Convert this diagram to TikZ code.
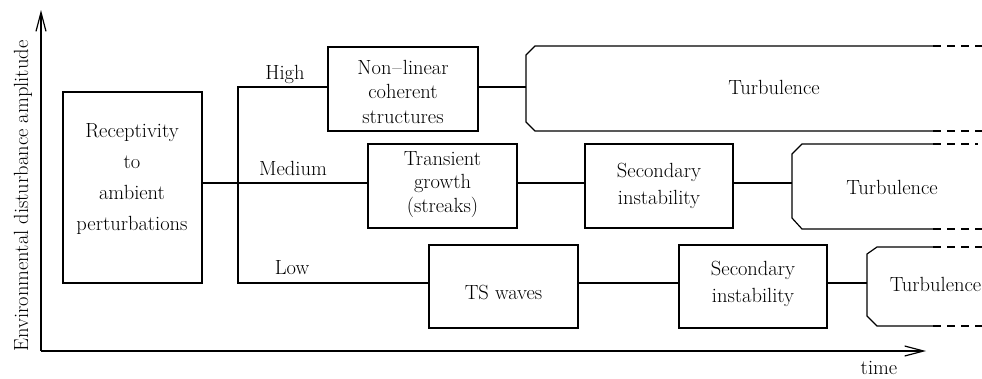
\documentclass[tikz,border=0pt]{standalone}
\usetikzlibrary{arrows.meta}
\begin{document}
\begin{tikzpicture}[x=1pt,y=-1pt,line width=1.2pt,
  every node/.style={font=\fontsize{20.5}{24}\selectfont},
  box/.style={draw,rectangle,inner sep=0pt},
  txt/.style={align=center,inner sep=0pt},
  cont/.style={dash pattern=on 8pt off 6pt},
  axis/.style={-{Straight Barb[length=19pt,width=10pt]}}]
\useasboundingbox (0,0) rectangle (982,378);

% axes
\coordinate (O) at (41,351);
\coordinate (ytop) at (41,10);
\coordinate (xend) at (926,351);
\draw[axis] (O) -- (ytop);
\draw[axis] (O) -- (xend);
\node[txt,rotate=90] (ylab) at (23,196) {Environmental disturbance amplitude};
\node[txt] (tlab) at (879,368) {time};

% boxes
\node[box,minimum width=139pt,minimum height=191pt] (rec) at (132.5,187.5) {};
\node[txt,font=\fontsize{20.5}{30.7}\selectfont] (rect) at (132,179) {Receptivity\\to\\ambient\\perturbations};

\node[box,minimum width=150pt,minimum height=84pt] (nl) at (403,89) {};
\node[txt,font=\fontsize{20.5}{24.5}\selectfont] (nlt) at (403,91.5) {Non\hspace{1pt}--\hspace{1pt}linear\\coherent\\structures};

\node[box,minimum width=149pt,minimum height=84pt] (tg) at (442.5,186) {};
\node[txt,font=\fontsize{20.5}{23.3}\selectfont] (tgt) at (442.5,184.5) {Transient\\growth\\(streaks)};

\node[box,minimum width=148pt,minimum height=84pt] (s1) at (659,186) {};
\node[txt,font=\fontsize{20.5}{27}\selectfont] (s1t) at (659,186) {Secondary\\instability};

\node[box,minimum width=149pt,minimum height=83pt] (ts) at (503.5,286.5) {};
\node[txt] (tst) at (503.5,292) {TS waves};

\node[box,minimum width=148pt,minimum height=83pt] (s2) at (753,286.5) {};
\node[txt,font=\fontsize{20.5}{27}\selectfont] (s2t) at (753,284) {Secondary\\instability};

% turbulence regions
\draw (933,46) -- (535,46) -- (526,55) -- (526,122) -- (535,131) -- (933,131);
\draw[cont] (933,46) -- (982,46);
\draw[cont] (933,131) -- (982,131);
\node[txt] (t1) at (774,87) {Turbulence};
\coordinate (t1w) at (526,87);

\draw (933,144) -- (802,144) -- (792,154) -- (792,218) -- (802,229) -- (933,229);
\draw[cont] (933,144) -- (978,144);
\draw[cont] (933,229) -- (982,229);
\node[txt] (t2) at (892,187) {Turbulence};
\coordinate (t2w) at (792,183);

\draw (933,247) -- (877,247) -- (867,254) -- (867,316) -- (877,326) -- (933,326);
\draw[cont] (933,247) -- (982,247);
\draw[cont] (933,326) -- (982,326);
\node[txt] (t3) at (935.5,284) {Turbulence};
\coordinate (t3w) at (867,283);

% branch labels
\node[txt] (hil) at (285,74.5) {High};
\node[txt] (mdl) at (293,168) {Medium};
\node[txt] (lol) at (292,268) {Low};

% connectors
\coordinate (hi) at (238,87);
\coordinate (md) at (238,183);
\coordinate (lo) at (238,283);
\draw (rec.east |- md) -- (tg.west |- md);
\draw (nl.west |- hi) -- (hi) -- (lo) -- (ts.west |- lo);
\draw (nl.east |- t1w) -- (t1w);
\draw (tg.east |- md) -- (s1.west |- md);
\draw (s1.east |- t2w) -- (t2w);
\draw (ts.east |- lo) -- (s2.west |- lo);
\draw (s2.east |- t3w) -- (t3w);
\end{tikzpicture}
\end{document}
